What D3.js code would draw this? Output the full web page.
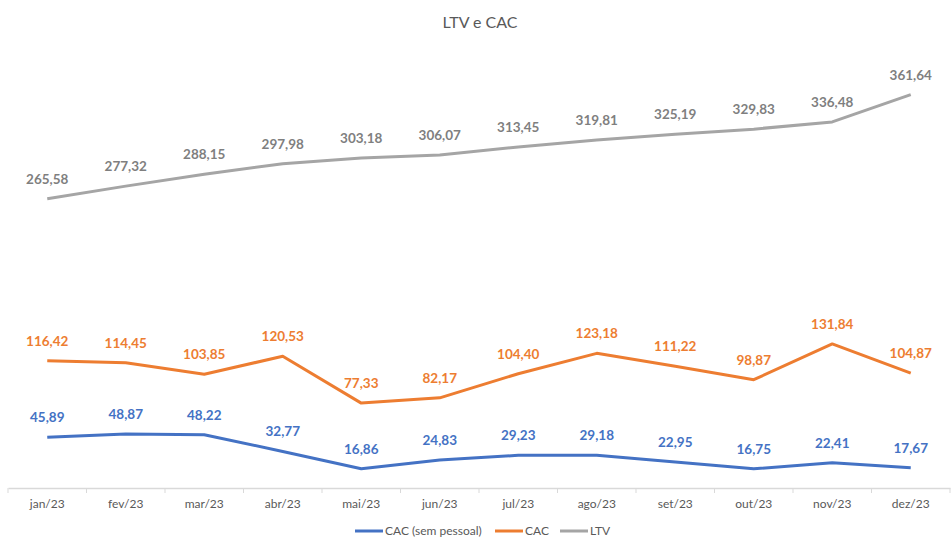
<!DOCTYPE html>
<html>
<head>
<meta charset="utf-8">
<script src="https://cdn.jsdelivr.net/npm/d3@7"></script>
<style>
  body { margin: 0; background: #fff; }
  svg { font-family: Lato, "Open Sans", sans-serif; }
</style>
</head>
<body>
<div id="chart"></div>
<script>
const width = 951;
const height = 537;

const months = ["jan/23", "fev/23", "mar/23", "abr/23", "mai/23", "jun/23", "jul/23", "ago/23", "set/23", "out/23", "nov/23", "dez/23"];
const cacSemPessoal = [45.89, 48.87, 48.22, 32.77, 16.86, 24.83, 29.23, 29.18, 22.95, 16.75, 22.41, 17.67];
const cac = [116.42, 114.45, 103.85, 120.53, 77.33, 82.17, 104.40, 123.18, 111.22, 98.87, 131.84, 104.87];
const ltv = [265.58, 277.32, 288.15, 297.98, 303.18, 306.07, 313.45, 319.81, 325.19, 329.83, 336.48, 361.64];

const seriesNames = ["CAC (sem pessoal)", "CAC", "LTV"];
const seriesColors = ["#4472C4", "#ED7D31", "#A5A5A5"];
const labelColors = ["#4472C4", "#ED7D31", "#7F7F7F"];
const seriesValues = [cacSemPessoal, cac, ltv];

const fmt = v => v.toFixed(2).replace(".", ",");

const svg = d3.select("#chart")
    .append("svg")
    .attr("width", width)
    .attr("height", height);

const x = d3.scaleBand().domain(months).range([8, 950]);
const y = d3.scaleLinear().domain([0, 400]).range([487, 53]);

// title
svg.append("text")
    .attr("x", 480)
    .attr("y", 28)
    .attr("text-anchor", "middle")
    .style("fill", "#595959")
    .style("font-size", "16px")
    .text("LTV e CAC");

// x axis
const xAxis = svg.append("g")
    .attr("transform", "translate(0,488)")
    .call(d3.axisBottom(x).tickSize(0).tickPadding(11));
xAxis.select(".domain").attr("stroke", "#D9D9D9").attr("stroke-width", 1.5);
xAxis.selectAll("text")
    .style("fill", "#595959")
    .style("font-size", "12px")
    .style("font-family", "Lato, sans-serif");

// small ticks at band edges
svg.append("g").selectAll("line")
    .data(months.concat(["end"]))
    .join("line")
    .attr("x1", (d, i) => x.range()[0] + i * x.bandwidth())
    .attr("x2", (d, i) => x.range()[0] + i * x.bandwidth())
    .attr("y1", 488)
    .attr("y2", 493)
    .attr("stroke", "#D9D9D9");

const line = d3.line()
    .x((d, i) => x(months[i]) + x.bandwidth() / 2)
    .y(d => y(d));

seriesValues.forEach((vals, s) => {
    svg.append("path")
        .datum(vals)
        .attr("fill", "none")
        .attr("stroke", seriesColors[s])
        .attr("stroke-width", 3)
        .attr("stroke-linejoin", "round")
        .attr("d", line);

    svg.append("g").selectAll("text")
        .data(vals)
        .join("text")
        .attr("x", (d, i) => x(months[i]) + x.bandwidth() / 2)
        .attr("y", d => y(d) - 15)
        .attr("text-anchor", "middle")
        .style("fill", labelColors[s])
        .style("font-size", "13.5px")
        .style("font-weight", "bold")
        .text(d => fmt(d));
});

// legend
const legendX = [355, 495, 560];
const legend = svg.append("g").selectAll("g")
    .data(seriesNames)
    .join("g")
    .attr("transform", (d, i) => `translate(${legendX[i]},531)`);
legend.append("line")
    .attr("x1", 0).attr("x2", 28)
    .attr("y1", 0).attr("y2", 0)
    .attr("stroke", (d, i) => seriesColors[i])
    .attr("stroke-width", 3);
legend.append("text")
    .attr("x", 30)
    .attr("y", 4)
    .style("fill", "#595959")
    .style("font-size", "12px")
    .text(d => d);
</script>
</body>
</html>
